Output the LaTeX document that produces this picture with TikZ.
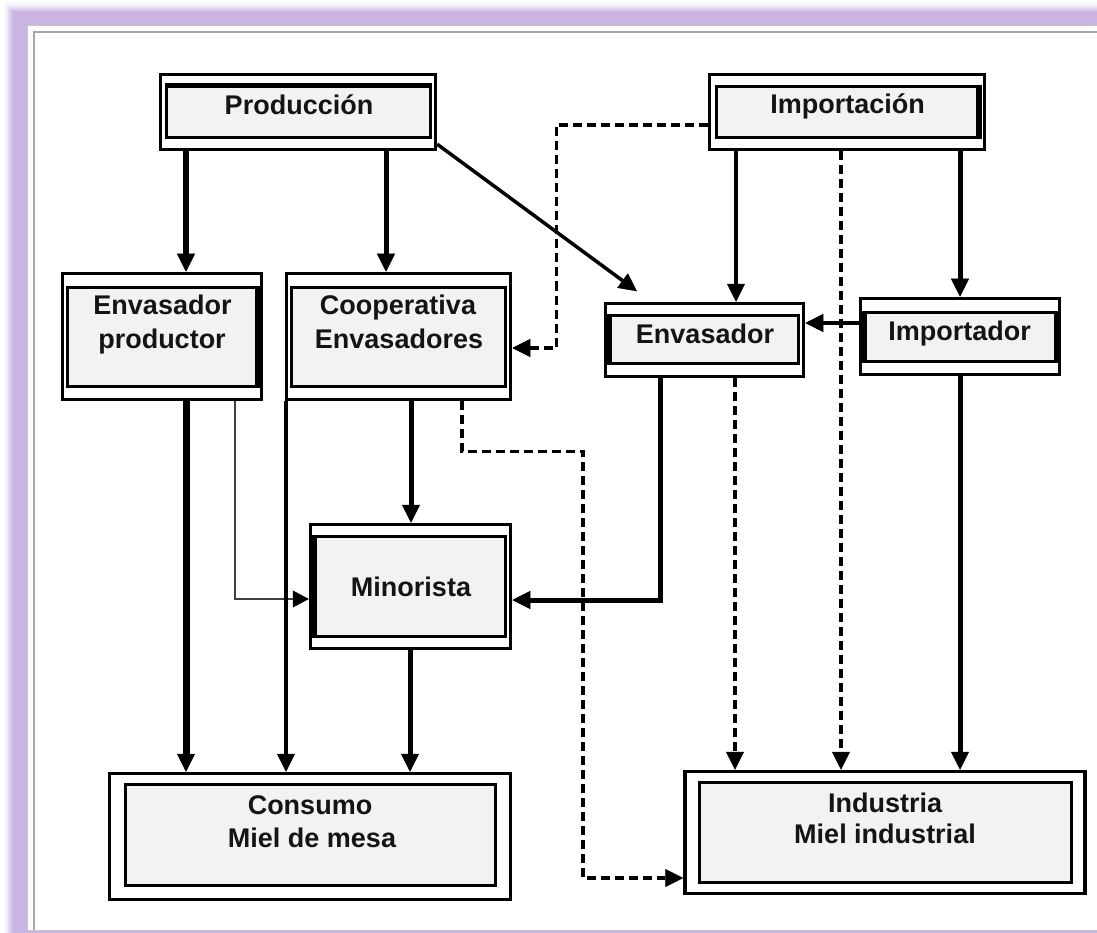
\documentclass[tikz,border=0pt]{standalone}
\usepackage{fontspec}
\setmainfont{Liberation Sans}
\usetikzlibrary{arrows.meta}
\definecolor{boxfill}{HTML}{F2F2F2}
\definecolor{glow}{HTML}{C9B4E2}
\begin{document}
\begin{tikzpicture}[x=1pt,y=-1pt,
  outerbox/.style={draw, line width=3.5pt, fill=white, inner sep=0pt},
  innerbox/.style={draw, line width=2.5pt, fill=boxfill, inner sep=0pt},
  bar/.style={line width=6.5pt, line cap=butt},
  lbl/.style={font=\bfseries\fontsize{27}{33}\selectfont, text=black!92, inner sep=0pt, anchor=base},
  flow/.style={line width=#1, line cap=butt,
    -{Triangle[length=18pt,width=18pt,line width=0.5pt]}},
  flow/.default=5pt,
  dflow/.style={flow=3.5pt, dash pattern=on 9pt off 5pt},
  tflow/.style={line width=1.4pt, draw=black!75,
    -{Triangle[length=16pt,width=17pt,line width=0.5pt,fill=black,color=black]}}
]
\useasboundingbox (0,0) rectangle (1097,933);

% soft lavender frame around the panel
\foreach \d/\o in {9/0.10,7/0.18,5/0.3,3/0.5,1/0.75,0/1}
  \fill[glow, opacity=\o] (13-\d,12-\d) rectangle (1140,960);
\filldraw[fill=white, draw=gray!45, line width=1.5pt] (27.5,25.5) rectangle (1140,930.5);
\draw[gray!70, line width=2pt] (33.5,930) -- (33.5,32.5) -- (1140,32.5);

% ---- boxes ----
% Produccion
\node[outerbox, minimum width=275pt, minimum height=75pt] (prod) at (298,112) {};
\node[innerbox, minimum width=264pt, minimum height=51pt] (prodi) at (298.5,112) {};
\draw[line width=4.5pt] (prodi.north west) -- (prodi.north east);
\node[lbl] (prodt) at (299,115) {Producción};

% Importacion
\node[outerbox, minimum width=275pt, minimum height=75pt] (imp) at (847,112) {};
\node[innerbox, minimum width=261pt, minimum height=51pt] (impi) at (847,112) {};
\draw[bar] (impi.north east) -- (impi.south east);
\node[lbl] (impt) at (847.5,114) {Importación};

% Envasador productor
\node[outerbox, minimum width=199pt, minimum height=126pt] (ep) at (162,336.5) {};
\node[innerbox, minimum width=189pt, minimum height=99pt] (epi) at (162,337) {};
\draw[bar] (epi.north east) -- (epi.south east);
\node[lbl] (ept1) at (162.5,314) {Envasador};
\node[lbl] (ept2) at (162,348) {productor};

% Cooperativa Envasadores
\node[outerbox, minimum width=224pt, minimum height=126pt] (coop) at (398.5,336.5) {};
\node[innerbox, minimum width=214pt, minimum height=99pt] (coopi) at (398.5,337) {};
\node[lbl] (coopt1) at (398,314) {Cooperativa};
\node[lbl] (coopt2) at (399,348) {Envasadores};

% Envasador
\node[outerbox, minimum width=198pt, minimum height=73pt] (env) at (704.5,340) {};
\node[innerbox, minimum width=189pt, minimum height=48pt] (envi) at (704,339.5) {};
\draw[bar] (envi.north west) -- (envi.south west);
\node[lbl] (envt) at (705,343) {Envasador};

% Importador
\node[outerbox, minimum width=199pt, minimum height=76pt] (impr) at (960,336.5) {};
\node[innerbox, minimum width=191pt, minimum height=49pt] (impri) at (960,337) {};
\draw[bar] (impri.north west) -- (impri.south west);
\draw[bar] (impri.north east) -- (impri.south east);
\node[lbl] (imprt) at (959.5,340) {Importador};

% Minorista
\node[outerbox, minimum width=200pt, minimum height=124pt] (min) at (410.5,586.5) {};
\node[innerbox, minimum width=191pt, minimum height=100pt] (mini) at (410,586.5) {};
\draw[bar] (mini.north west) -- (mini.south west);
\node[lbl] (mint) at (411,596) {Minorista};

% Consumo
\node[outerbox, minimum width=401pt, minimum height=126pt] (con) at (310,836.5) {};
\node[innerbox, minimum width=370pt, minimum height=101pt] (coni) at (310.5,835) {};
\node[lbl] (cont1) at (310,814) {Consumo};
\node[lbl] (cont2) at (312,847) {Miel de mesa};

% Industria
\node[outerbox, minimum width=400pt, minimum height=122pt] (ind) at (885,832.5) {};
\node[innerbox, minimum width=372pt, minimum height=100pt] (indi) at (885.5,832.5) {};
\node[lbl] (indt1) at (885,812) {Industria};
\node[lbl] (indt2) at (885,843) {Miel industrial};

% ---- flows ----
\draw[flow=6pt] ([xshift=-112pt]prod.south) -- ([xshift=24pt]ep.north);
\draw[flow] ([xshift=88pt]prod.south) -- ([xshift=-12.5pt]coop.north);
\draw[flow=3.5pt] ([yshift=7pt]prod.south east) -- ([xshift=-67.5pt,yshift=10.5pt]env.north);
\draw[flow=3.5pt] ([xshift=-111pt]imp.south) -- ([xshift=31.5pt]env.north);
\draw[flow] ([xshift=113pt]imp.south) -- (impr.north);
\draw[dflow] ([yshift=-13pt]imp.west) -- ++(-151.5,0) |- ([yshift=-11.5pt]coop.east);
\draw[dflow] ([xshift=-6pt]imp.south) -- ([xshift=-44pt]ind.north);
\draw[flow=4pt] ([yshift=13.5pt]impr.west) -- ([yshift=17pt]env.east);
\draw[flow] ([xshift=-44.5pt]env.south) |- ([yshift=-13.5pt]min.east);
\draw[dflow] ([xshift=30.5pt]env.south) -- ([xshift=-150pt]ind.north);
\draw[flow] (impr.south) -- ([xshift=75pt]ind.north);
\draw[flow=7pt] ([xshift=24pt]ep.south) -- ([xshift=-124pt]con.north);
\draw[tflow] ([xshift=73pt]ep.south) |- ([yshift=-12.5pt]min.west);
\draw[flow=3.5pt] ([xshift=-112.5pt]coop.south) -- ([xshift=-24pt]con.north);
\draw[flow] ([xshift=12.5pt]coop.south) -- ([xshift=0.5pt]min.north);
\draw[dflow] ([xshift=63.5pt]coop.south) -- ++(0,50) -- ++(121,0) |- ([yshift=-45.5pt]ind.west);
\draw[flow] ([xshift=-0.5pt]min.south) -- ([xshift=100pt]con.north);
\end{tikzpicture}
\end{document}
